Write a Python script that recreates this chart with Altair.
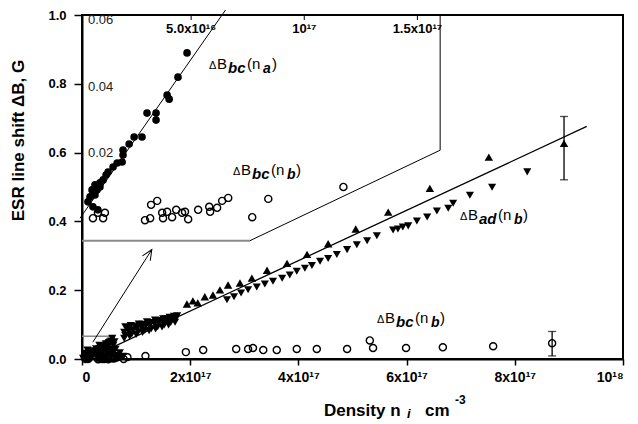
import altair as alt
import pandas as pd

FONT = "Liberation Sans"

# ---------------- data ----------------
# Main panel: density in units of 1e17 cm^-3, line shift in G
ad_up_x = [1.94, 2.05, 2.14, 2.27, 2.42, 2.55, 2.70, 2.92, 3.14, 3.42, 3.79, 4.16,
           4.55, 5.06, 5.66, 6.43, 7.52, 8.91]
ad_up_y = [0.160, 0.169, 0.163, 0.181, 0.186, 0.201, 0.215, 0.221, 0.235, 0.258, 0.278, 0.304,
           0.335, 0.378, 0.427, 0.496, 0.587, 0.627]

ad_down_x = [0.05, 0.10, 0.16, 0.22, 0.28, 0.34, 0.40, 0.46, 0.50, 0.54, 0.56, 0.30, 0.42,
             0.55, 0.66, 0.76, 0.62, 0.48, 0.36, 0.20, 0.12,
             0.02, 0.08, 0.14, 0.18, 0.26, 0.32, 0.38, 0.44, 0.52, 0.58, 0.60, 0.58, 0.50,
             0.44, 0.38, 0.70, 0.64, 0.72, 0.26, 0.32, 0.06, 0.10,
             0.78, 0.86, 0.94, 1.02, 1.10, 1.18, 1.26, 1.34, 1.42, 1.50, 1.58, 1.66, 1.74,
             0.80, 0.92, 1.04, 1.16, 1.28, 1.40, 1.52, 1.64,
             0.84, 0.98, 1.12, 1.26, 1.40, 1.54, 1.70,
             0.78, 0.88, 1.00, 1.12, 1.24, 1.36, 1.48, 1.60, 1.72,
             0.80, 0.90, 1.05, 1.20, 1.35, 1.50, 1.62, 1.76,
             2.68, 2.81, 2.94, 3.07, 3.23, 3.38, 3.53, 3.70, 3.84, 3.97, 4.12, 4.25, 4.40,
             4.55, 4.71, 4.90, 5.08, 5.27, 5.45, 5.75, 5.84, 5.93, 6.03, 6.19, 6.38, 6.56,
             6.77, 6.86, 7.17, 7.58, 8.23]
ad_down_y = [0.004, 0.010, 0.006, 0.014, 0.020, 0.026, 0.030, 0.036, 0.044, 0.052, 0.060, 0.004, 0.008,
             0.012, 0.010, 0.008, 0.028, 0.020, 0.012, 0.024, 0.018,
             0.002, 0.003, 0.012, 0.004, 0.010, 0.016, 0.020, 0.024, 0.030, 0.040, 0.050, 0.022, 0.014,
             0.044, 0.036, 0.018, 0.004, 0.004, 0.030, 0.040, 0.016, 0.026,
             0.078, 0.082, 0.085, 0.089, 0.092, 0.096, 0.099, 0.103, 0.106, 0.109, 0.112, 0.115, 0.119,
             0.068, 0.073, 0.079, 0.083, 0.088, 0.094, 0.099, 0.106,
             0.090, 0.096, 0.101, 0.106, 0.112, 0.117, 0.124,
             0.060, 0.066, 0.071, 0.077, 0.082, 0.087, 0.093, 0.099, 0.107,
             0.094, 0.097, 0.102, 0.108, 0.113, 0.117, 0.121, 0.126,
             0.172, 0.181, 0.192, 0.201, 0.209, 0.218, 0.226, 0.235, 0.244, 0.255, 0.264, 0.272, 0.284,
             0.292, 0.304, 0.318, 0.332, 0.344, 0.358, 0.375, 0.378, 0.384, 0.387, 0.401, 0.413, 0.430,
             0.438, 0.453, 0.476, 0.499, 0.544]

bc_open_x = [1.92, 2.24, 2.85, 3.07, 3.16, 3.35, 3.60, 3.97, 4.34, 4.90, 5.32, 5.38,
             5.99, 6.67, 7.60, 8.69]
bc_open_y = [0.020, 0.026, 0.029, 0.029, 0.032, 0.026, 0.026, 0.029, 0.029, 0.029, 0.054, 0.032,
             0.032, 0.034, 0.037, 0.046]

err_x = [8.91, 8.69]
err_lo = [0.521, 0.009]
err_hi = [0.705, 0.080]

fit_x = [0.45, 9.33]
fit_y = [0.026, 0.676]

# Inset: density in units of 1e16 cm^-3
na_x = [4.82, 4.42, 3.94, 4.03, 3.05, 3.45, 3.45, 2.83, 2.48, 2.26, 1.99, 1.99, 1.95, 1.73,
        1.55, 1.33, 1.24, 1.11, 0.97, 0.75, 0.62, 0.53, 0.44, 0.66, 0.88, 0.84, 0.97, 0.75]
na_y = [0.0492, 0.0419, 0.0365, 0.0353, 0.0311, 0.0311, 0.0290, 0.0239, 0.0239, 0.0218, 0.0200,
        0.0185, 0.0164, 0.0161, 0.0149, 0.0134, 0.0125, 0.0110, 0.0101, 0.0095, 0.0080, 0.0059,
        0.0044, 0.0029, 0.0020, 0.0080, 0.0089, 0.0065]

nb_x = [0.66, 0.88, 1.11, 1.19, 2.96, 3.19, 3.23, 3.50, 3.72, 3.76, 3.94, 4.16, 4.34, 4.60,
        4.73, 4.87, 5.31, 5.80, 5.84, 6.15, 6.37, 6.64, 7.70, 8.41, 11.73]
nb_y = [-0.0005, 0.0011, -0.0005, 0.0011, -0.0011, -0.0005, 0.0035, 0.0047, 0.0011, -0.0005,
        0.0014, -0.0002, 0.0020, 0.0011, 0.0014, -0.0008, 0.0020, 0.0029, 0.0014, 0.0026,
        0.0047, 0.0056, -0.0002, 0.0053, 0.0089]

inset_fit_x = [0.09, 6.52]
inset_fit_y = [-0.0005, 0.0621]

inset_xticks = [5, 10, 15]
inset_xtick_labels = ["5.0x10\u00b9\u2076", "10\u00b9\u2077", "1.5x10\u00b9\u2077"]
inset_yticks = [0.02, 0.04, 0.06]
inset_ytick_labels = ["0.02", "0.04", "0.06"]

# Annotation outlines in main-panel units
frame_gray_x = [0.0, 3.105]
frame_gray_y = [0.344, 0.344]
frame_black_x = [3.105, 6.62, 6.62]
frame_black_y = [0.344, 0.607, 1.0]
box_x = [0.0, 0.57, 0.57]
box_y = [0.066, 0.066, 0.0]
arrow_x = [0.20, 1.29]
arrow_y = [0.049, 0.318]

# Series labels (anchor in main-panel units)
lab_x = [2.347, 2.791, 6.987, 5.453]
lab_y = [0.842, 0.536, 0.404, 0.106]
lab_sub1 = ["bc", "bc", "ad", "bc"]
lab_sub2 = ["a", "b", "b", "b"]

# ---------------- frames ----------------
up_df = pd.DataFrame({"x": ad_up_x, "y": ad_up_y})
down_df = pd.DataFrame({"x": ad_down_x, "y": ad_down_y})
open_df = pd.DataFrame({"x": bc_open_x, "y": bc_open_y})
err_df = pd.DataFrame({"x": err_x, "lo": err_lo, "hi": err_hi})
fit_df = pd.DataFrame({"x": fit_x, "y": fit_y})
na_df = pd.DataFrame({"x16": na_x, "y": na_y})
nb_df = pd.DataFrame({"x16": nb_x, "y": nb_y})
ifit_df = pd.DataFrame({"x16": inset_fit_x, "y": inset_fit_y})
ixt_df = pd.DataFrame({"x16": inset_xticks, "t": inset_xtick_labels})
iyt_df = pd.DataFrame({"y": inset_yticks, "t": inset_ytick_labels})
lab_df = pd.DataFrame({"x": lab_x, "y": lab_y, "s1": lab_sub1, "s2": lab_sub2})


def path_df(xs_, ys_):
    return pd.DataFrame({"x": xs_, "y": ys_, "o": list(range(len(xs_)))})


xs = alt.Scale(domain=[0, 10], nice=False, zero=False)
ys = alt.Scale(domain=[0, 1], nice=False, zero=False)

x_axis = alt.Axis(
    values=[0, 2, 4, 6, 8, 10],
    labelExpr="datum.value == 0 ? '0' : (datum.value == 10 ? '10\u00b9\u2078' : datum.value + 'x10\u00b9\u2077')",
    title=None, tickSize=6, tickWidth=1.5, domainWidth=2,
    labelFont=FONT, labelFontSize=14, labelFontWeight="bold", labelPadding=5,
    grid=False,
)
y_axis = alt.Axis(
    values=[0, 0.2, 0.4, 0.6, 0.8, 1.0], format=".1f",
    title="ESR line shift \u0394B, G", titleFont=FONT, titleFontSize=17, titleFontWeight="bold",
    titleAngle=270, titleAlign="center", titleBaseline="middle", titleX=-64, titleY=125,
    tickSize=8, tickWidth=1.5, domainWidth=2,
    labelFont=FONT, labelFontSize=13, labelFontWeight="bold", labelPadding=8,
    grid=False,
)


def MX(f):
    return alt.X(f, type="quantitative", scale=xs, axis=x_axis)


def MY(f):
    return alt.Y(f, type="quantitative", scale=ys, axis=y_axis)


layers = []

# annotation outlines
for (px, py, col, w) in [
    (frame_gray_x, frame_gray_y, "#8a8a8a", 2),
    (frame_black_x, frame_black_y, "black", 1),
    (box_x, box_y, "#8a8a8a", 1.5),
    (arrow_x, arrow_y, "black", 1),
]:
    layers.append(
        alt.Chart(path_df(px, py)).mark_line(color=col, strokeWidth=w).encode(
            x=MX("x"), y=MY("y"), order="o:Q")
    )

arrow_head = alt.Chart(pd.DataFrame({"x": [arrow_x[1]], "y": [arrow_y[1]]})).mark_point(
    shape="M -0.45 1 L 0 0 L 0.45 1", filled=False, color="black", strokeWidth=1,
    size=420, angle=32, opacity=1,
).encode(x=MX("x"), y=MY("y"))
layers.append(arrow_head)

# data points in main panel
layers.append(alt.Chart(down_df).mark_point(shape="triangle-down", filled=True, color="black",
                                             size=66, opacity=1).encode(x=MX("x"), y=MY("y")))
layers.append(alt.Chart(up_df).mark_point(shape="triangle-up", filled=True, color="black",
                                           size=72, opacity=1).encode(x=MX("x"), y=MY("y")))
layers.append(alt.Chart(na_df).transform_calculate(x="datum.x16 / 10").mark_point(
    shape="circle", filled=True, color="black", size=55, opacity=1).encode(x=MX("x"), y=MY("y")))
layers.append(alt.Chart(nb_df).transform_calculate(x="datum.x16 / 10").mark_point(
    shape="circle", filled=False, color="black", size=48, strokeWidth=1.4, opacity=1).encode(
    x=MX("x"), y=MY("y")))
layers.append(alt.Chart(open_df).mark_point(shape="circle", filled=False, color="black",
                                             size=50, strokeWidth=1.4, opacity=1).encode(
    x=MX("x"), y=MY("y")))

# error bars
layers.append(alt.Chart(err_df).mark_rule(color="black", strokeWidth=1.3).encode(
    x=MX("x"), y=MY("lo"), y2="hi"))
layers.append(alt.Chart(err_df).mark_tick(color="black", orient="horizontal", size=8,
                                           thickness=1.3).encode(x=MX("x"), y=MY("lo")))
layers.append(alt.Chart(err_df).mark_tick(color="black", orient="horizontal", size=8,
                                           thickness=1.3).encode(x=MX("x"), y=MY("hi")))

# fit line
layers.append(alt.Chart(fit_df).mark_line(color="black", strokeWidth=1.3).encode(
    x=MX("x"), y=MY("y")))

# series labels built from pieces
pieces = [
    ("\u0394", 0, 0, 11, "normal", "normal", None),
    ("B", 8, 0, 15, "normal", "normal", None),
    (None, 19, 4, 15, "bold", "italic", "s1"),
    ("(n", 38, 0, 15, "normal", "normal", None),
    (None, 54, 4, 14, "bold", "italic", "s2"),
    (")", 63, 0, 15, "normal", "normal", None),
]
for (txt, dx, dy, fs, fw, fst, fld) in pieces:
    enc = dict(x=MX("x"), y=MY("y"))
    enc["text"] = alt.Text(f"{fld}:N") if fld else alt.value(txt)
    layers.append(alt.Chart(lab_df).mark_text(
        align="left", baseline="alphabetic", dx=dx, dy=dy, font=FONT, fontSize=fs,
        fontWeight=fw, fontStyle=fst, color="black").encode(**enc))

# x-axis title pieces (pixel positions relative to plot area)
for (txt, px, py, fs, fw, fst) in [
    ("Density n", 242, 401, 17, "bold", "normal"),
    ("i", 325, 403, 13, "bold", "italic"),
    ("cm", 343, 401, 17, "bold", "normal"),
    ("-3", 373, 389, 12, "bold", "normal"),
]:
    layers.append(alt.Chart(pd.DataFrame({"t": [txt]})).mark_text(
        align="left", baseline="alphabetic", font=FONT, fontSize=fs, fontWeight=fw,
        fontStyle=fst, color="black").encode(x=alt.value(px), y=alt.value(py), text="t:N"))

main = alt.layer(*layers)

# ---------------- inset ----------------
ixs = alt.Scale(domain=[0, 16], range=[-4, 358], nice=False, zero=False)
iys = alt.Scale(domain=[0, 0.06], range=[201.5, 2], nice=False, zero=False)


def IX(f):
    return alt.X(f, type="quantitative", scale=ixs, axis=None)


def IY(f):
    return alt.Y(f, type="quantitative", scale=iys, axis=None)


inset_layers = [
    alt.Chart(na_df).mark_point(shape="circle", filled=True, color="black", size=58,
                                opacity=1).encode(x=IX("x16"), y=IY("y")),
    alt.Chart(nb_df).mark_point(shape="circle", filled=False, color="black", size=50,
                                strokeWidth=1.4, opacity=1).encode(x=IX("x16"), y=IY("y")),
    alt.Chart(ifit_df).mark_line(color="black", strokeWidth=1).encode(x=IX("x16"), y=IY("y")),
    alt.Chart(ixt_df).mark_rule(color="black", strokeWidth=1).encode(
        x=IX("x16"), y=alt.value(0), y2=alt.value(5)),
    alt.Chart(ixt_df).mark_text(align="center", baseline="middle", font=FONT, fontSize=13,
                                fontWeight="bold", color="black").encode(
        x=IX("x16"), y=alt.value(14), text="t:N"),
    alt.Chart(iyt_df).mark_text(align="left", baseline="middle", dy=3, font=FONT, fontSize=13,
                                color="#222222").encode(
        x=alt.value(6), y=IY("y"), text="t:N"),
]
inset = alt.layer(*inset_layers)

chart = alt.layer(main, inset).resolve_scale(x="independent", y="independent").properties(
    width=541, height=344,
    autosize=alt.AutoSizeParams(type="none"),
    padding={"left": 74, "top": 7, "right": 7, "bottom": 64},
).configure_view(stroke="black", strokeWidth=2).configure_axis(
    domainColor="black", tickColor="black", labelColor="black", titleColor="black"
)

chart.save("out.html", embed_options={"renderer": "svg", "actions": False})
